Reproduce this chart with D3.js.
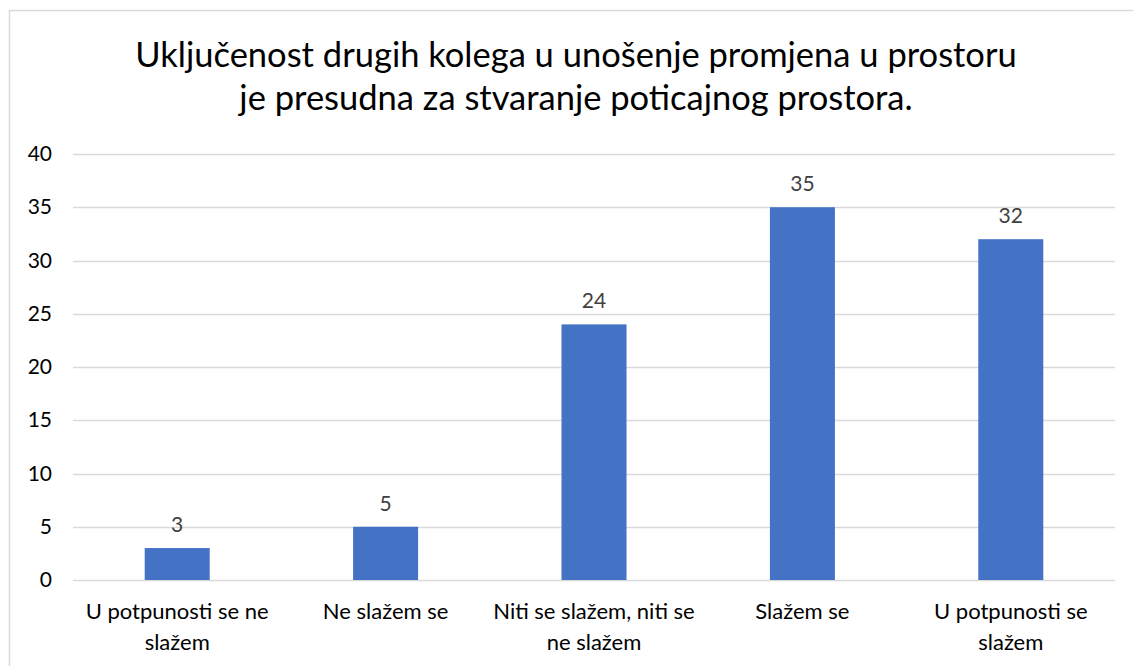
<!DOCTYPE html>
<html>
<head>
<meta charset="utf-8">
<script src="https://cdn.jsdelivr.net/npm/d3@7"></script>
<style>
  body { margin: 0; background: #fff; }
  svg { display: block; font-family: Lato, sans-serif; }
</style>
</head>
<body>
<svg id="chart"></svg>
<script>
// chart data
var titleLines = ["Uključenost drugih kolega u unošenje promjena u prostoru",
                  "je presudna za stvaranje poticajnog prostora."]
var categories = [["U potpunosti se ne", "slažem"],
                  ["Ne slažem se"],
                  ["Niti se slažem, niti se", "ne slažem"],
                  ["Slažem se"],
                  ["U potpunosti se", "slažem"]]
var values = [3, 5, 24, 35, 32]
var yTicks = [0, 5, 10, 15, 20, 25, 30, 35, 40]

var screen = {width:1133, height:666}
var margins = {top:154, bottom:86, left:73, right:18}
var graph = {
    width:screen.width-margins.left-margins.right,
    height:screen.height-margins.top-margins.bottom
}

var svg = d3.select("#chart")
    .attr("width",screen.width)
    .attr("height",screen.height)

//outer frame (only top and left edges show in the picture)
svg.append("path")
    .attr("d","M9.5,"+screen.height+"V10.5H"+screen.width)
    .attr("fill","none")
    .attr("stroke","#d9d9d9")
    .attr("stroke-width",1.5)

//title
svg.append("text")
    .attr("text-anchor","middle")
    .attr("font-size",34.5)
    .attr("fill","#000")
    .selectAll("tspan")
    .data(titleLines)
    .enter()
    .append("tspan")
    .attr("x",576)
    .attr("y",function(d,i){return 67+i*43})
    .text(function(d){return d})

var g = svg.append("g")
    .attr("transform","translate("+margins.left+","+margins.top+")")

var xScale = d3.scaleBand()
    .domain(d3.range(values.length))
    .range([0,graph.width])
    .paddingInner(0.688)
    .paddingOuter(0.344)

var yScale = d3.scaleLinear()
    .domain([0,40])
    .range([graph.height,0])

//gridlines
g.selectAll("line.grid")
    .data(yTicks)
    .enter()
    .append("line")
    .classed("grid",true)
    .attr("x1",0)
    .attr("x2",graph.width)
    .attr("y1",function(d){return Math.round(yScale(d))+0.5})
    .attr("y2",function(d){return Math.round(yScale(d))+0.5})
    .attr("stroke","#d9d9d9")
    .attr("stroke-width",1.5)

//y axis labels
var yAxis = d3.axisLeft(yScale)
    .tickValues(yTicks)
    .tickSize(0)
    .tickPadding(21)
var ya = g.append("g").call(yAxis)
ya.select(".domain").remove()
ya.selectAll("text")
    .attr("font-family","Lato, sans-serif")
    .attr("font-size",21)
    .attr("fill","#000")

//bars
g.selectAll("rect")
    .data(values)
    .enter()
    .append("rect")
    .attr("x",function(d,i){return xScale(i)})
    .attr("width",xScale.bandwidth())
    .attr("y",function(d){return yScale(d)})
    .attr("height",function(d){return graph.height-yScale(d)})
    .attr("fill","#4472c4")

//value labels
g.selectAll("text.val")
    .data(values)
    .enter()
    .append("text")
    .classed("val",true)
    .attr("x",function(d,i){return xScale(i)+xScale.bandwidth()/2})
    .attr("y",function(d){return yScale(d)-16})
    .attr("text-anchor","middle")
    .attr("font-size",21)
    .attr("fill","#404040")
    .text(function(d){return d})

//category labels
var cats = g.selectAll("text.cat")
    .data(categories)
    .enter()
    .append("text")
    .classed("cat",true)
    .attr("text-anchor","middle")
    .attr("font-size",22)
    .attr("fill","#000")
cats.selectAll("tspan")
    .data(function(d,i){return d.map(function(s){return {s:s,i:i}})})
    .enter()
    .append("tspan")
    .attr("x",function(d){return xScale(d.i)+xScale.bandwidth()/2})
    .attr("y",function(d,j){return graph.height+39+j*31})
    .text(function(d){return d.s})
</script>
</body>
</html>
